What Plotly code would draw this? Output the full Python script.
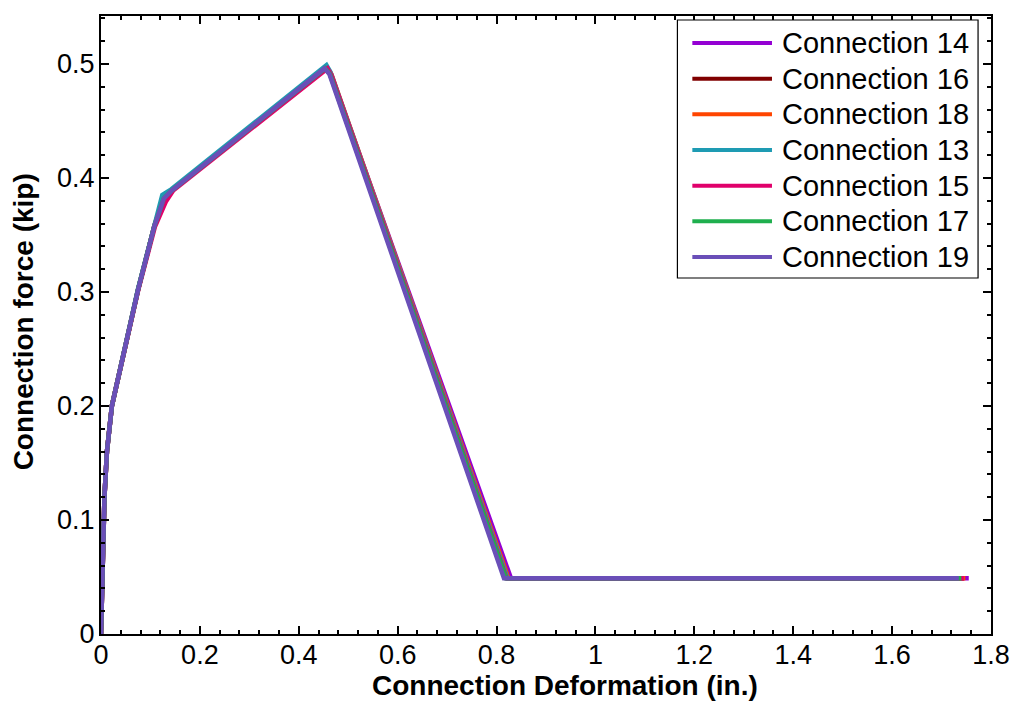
import plotly.graph_objects as go

# Force-deformation curves for each connection
names = ["Connection 14", "Connection 16", "Connection 18", "Connection 13",
         "Connection 15", "Connection 17", "Connection 19"]
colors = ["#9400D3", "#800000", "#FF4500", "#1E9BB3",
          "#E0006B", "#1FAF4E", "#6A4FB8"]

deform_14 = [0, 0.002, 0.004, 0.007, 0.012, 0.022, 0.075, 0.108, 0.127, 0.143, 0.455, 0.464, 0.829, 1.755]
force_14 = [0, 0.04, 0.08, 0.12, 0.16, 0.2, 0.302, 0.358, 0.382, 0.389, 0.497, 0.492, 0.049, 0.049]

deform_16 = [0, 0.002, 0.004, 0.007, 0.012, 0.022, 0.075, 0.108, 0.127, 0.143, 0.454, 0.463, 0.822, 1.745]
force_16 = [0, 0.04, 0.08, 0.12, 0.16, 0.2, 0.302, 0.358, 0.382, 0.389, 0.497, 0.492, 0.049, 0.049]

deform_18 = [0, 0.002, 0.004, 0.007, 0.012, 0.022, 0.075, 0.108, 0.128, 0.143, 0.457, 0.466, 0.824, 1.748]
force_18 = [0, 0.04, 0.08, 0.12, 0.16, 0.2, 0.302, 0.358, 0.381, 0.389, 0.497, 0.491, 0.049, 0.049]

deform_13 = [0, 0.002, 0.004, 0.007, 0.012, 0.022, 0.075, 0.107, 0.124, 0.142, 0.456, 0.464, 0.822, 1.742]
force_13 = [0, 0.04, 0.08, 0.12, 0.16, 0.2, 0.303, 0.359, 0.385, 0.39, 0.499, 0.493, 0.049, 0.049]

deform_15 = [0, 0.002, 0.004, 0.007, 0.012, 0.022, 0.075, 0.109, 0.131, 0.146, 0.458, 0.466, 0.820, 1.745]
force_15 = [0, 0.04, 0.08, 0.12, 0.16, 0.2, 0.301, 0.357, 0.379, 0.389, 0.496, 0.490, 0.049, 0.049]

deform_17 = [0, 0.002, 0.004, 0.007, 0.012, 0.022, 0.075, 0.108, 0.127, 0.143, 0.453, 0.463, 0.819, 1.740]
force_17 = [0, 0.04, 0.08, 0.12, 0.16, 0.2, 0.302, 0.358, 0.382, 0.389, 0.496, 0.491, 0.049, 0.049]

deform_19 = [0, 0.002, 0.004, 0.007, 0.012, 0.022, 0.075, 0.108, 0.127, 0.143, 0.452, 0.462, 0.815, 1.735]
force_19 = [0, 0.04, 0.08, 0.12, 0.16, 0.2, 0.302, 0.358, 0.382, 0.389, 0.496, 0.491, 0.049, 0.049]

deforms = [deform_14, deform_16, deform_18, deform_13, deform_15, deform_17, deform_19]
forces = [force_14, force_16, force_18, force_13, force_15, force_17, force_19]

x_title = "Connection Deformation (in.)"
y_title = "Connection force (kip)"

FONT = "Liberation Sans, Arial, sans-serif"

# plot-area edges in pixels, used to place the hand-built legend and titles
L, R, T, B = 101, 995, 16, 634
W_FIG, H_FIG = 1022, 717


def px(p):
    return (p - L) / (R - L)


def py(p):
    return (B - p) / (B - T)


fig = go.Figure()
for xs, ys, nm, col in zip(deforms, forces, names, colors):
    fig.add_trace(go.Scatter(x=xs, y=ys, name=nm, mode="lines",
                             line=dict(color=col, width=4.5), showlegend=False))

axis_common = dict(
    showline=True, linecolor="black", linewidth=2, mirror="allticks",
    ticks="inside", ticklen=8, tickwidth=1.5, tickcolor="black",
    showgrid=False, zeroline=False,
    tickfont=dict(family=FONT, size=27, color="black"),
)

fig.update_xaxes(range=[0, 1.8], dtick=0.2, tick0=0, ticklabelstandoff=-4,
                 minor=dict(dtick=0.04, ticks="inside", ticklen=4, tickwidth=1.5,
                            tickcolor="black", showgrid=False),
                 **axis_common)
fig.update_yaxes(range=[0, 0.542], dtick=0.1, tick0=0, ticklabelstandoff=-1,
                 minor=dict(dtick=0.02, ticks="inside", ticklen=4, tickwidth=1.5,
                            tickcolor="black", showgrid=False),
                 **axis_common)

shapes = []
annotations = []

# legend frame
shapes.append(dict(type="rect", xref="paper", yref="paper",
                   x0=px(680), x1=px(982), y0=py(278), y1=py(20),
                   line=dict(color="black", width=1.2), fillcolor="white", layer="above"))
row0, row_step = 43, 35.67
for i, (nm, col) in enumerate(zip(names, colors)):
    yc = row0 + i * row_step
    shapes.append(dict(type="line", xref="paper", yref="paper",
                       x0=px(695), x1=px(775), y0=py(yc), y1=py(yc),
                       line=dict(color=col, width=4), layer="above"))
    annotations.append(dict(text=nm, xref="paper", yref="paper",
                            x=px(783), y=py(yc), xanchor="left", yanchor="middle",
                            showarrow=False,
                            font=dict(family=FONT, size=29, color="black")))

# axis titles
annotations.append(dict(text="<b>%s</b>" % x_title, xref="paper", yref="paper",
                        x=px(567), y=py(685), xanchor="center", yanchor="middle",
                        showarrow=False, font=dict(family=FONT, size=28, color="black")))
annotations.append(dict(text="<b>%s</b>" % y_title, xref="paper", yref="paper",
                        x=px(23), y=py(322), xanchor="center", yanchor="middle",
                        textangle=-90, showarrow=False,
                        font=dict(family=FONT, size=28, color="black")))

fig.update_layout(
    width=W_FIG, height=H_FIG,
    margin=dict(l=L, r=W_FIG - R, t=T, b=H_FIG - B),
    paper_bgcolor="white", plot_bgcolor="white",
    font=dict(family=FONT, color="black"),
    shapes=shapes, annotations=annotations,
)

fig.write_html("out.html")
